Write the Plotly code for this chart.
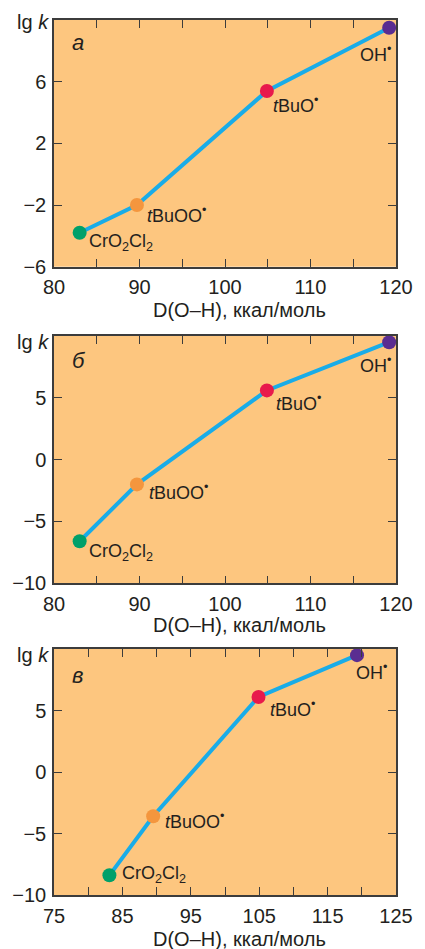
import plotly.graph_objects as go

# ---- data ----
species = ["CrO<sub>2</sub>Cl<sub>2</sub>", "<i>t</i>BuOO<sup>•</sup>", "<i>t</i>BuO<sup>•</sup>", "OH<sup>•</sup>"]
d_oh_a = [83.0, 89.7, 104.9, 119.2]
lgk_a = [-3.8, -2.0, 5.4, 9.5]
d_oh_b = [83.0, 89.7, 104.9, 119.2]
lgk_b = [-6.6, -2.0, 5.6, 9.5]
d_oh_c = [83.1, 89.5, 104.9, 119.3]
lgk_c = [-8.4, -3.6, 6.1, 9.5]
panel_letters = ["а", "б", "в"]
xtick_a = [80, 85, 90, 95, 100, 105, 110, 115, 120]
xlab_a = ["80", "", "90", "", "100", "", "110", "", "120"]
xtick_c = [75, 80, 85, 90, 95, 100, 105, 110, 115, 120, 125]
xlab_c = ["75", "", "85", "", "95", "", "105", "", "115", "", "125"]
ytick_a = [-6, -2, 2, 6, 10]
ylab_a = ["−6", "−2", "2", "6", ""]
ytick_bc = [-10, -5, 0, 5, 10]
ylab_bc = ["−10", "−5", "0", "5", ""]
x_title = "D(O–H), ккал/моль"
y_title = "lg <i>k</i>"

# ---- style ----
W, H = 425, 949
ML, MR, MT, MB = 53, 19, 20, 54
BG = "#FDC67F"
LINE = "#19ACE8"
MCOL = ["#00A06A", "#F4963E", "#E8194C", "#5A2D91"]
TXT = "#231F20"
AX = "#3C3C3C"
FONT = "Liberation Sans, Arial, Helvetica, sans-serif"

# label offsets (px) relative to point: (xshift, yshift, xanchor)
offs = [
    [(7, -10, "left"), (8, -9, "left"), (4, -14, "left"), (4, -26, "right")],
    [(7, -11, "left"), (10, -7, "left"), (7, -12, "left"), (4, -22, "right")],
    [(11, 1, "left"), (10, -4, "left"), (9, -12, "left"), (-3, -16, "left")],
]

ph = H - MT - MB
def dom(top_px, bot_px):
    lo = max(0.0, (H - MB - bot_px) / ph)
    hi = min(1.0, (H - MB - top_px) / ph)
    return [lo, hi]

domains = [dom(20, 266.7), dom(336, 583.3), dom(649, 895)]
panels = [
    (d_oh_a, lgk_a, [80, 120], xtick_a, xlab_a, [-6, 10], ytick_a, ylab_a),
    (d_oh_b, lgk_b, [80, 120], xtick_a, xlab_a, [-10, 10], ytick_bc, ylab_bc),
    (d_oh_c, lgk_c, [75, 125], xtick_c, xlab_c, [-10, 10], ytick_bc, ylab_bc),
]
title_y_px = [310, 625, 939]
lgk_y_px = [22, 342, 655]
letter_y_px = [43, 360, 675]

fig = go.Figure()
annotations = []
layout = {}
for i, (xs, ys, xr, xt, xl, yr, yt, yl) in enumerate(panels):
    n = "" if i == 0 else str(i + 1)
    xa, ya = "x" + n, "y" + n
    fig.add_trace(go.Scatter(
        x=xs, y=ys, mode="lines+markers", xaxis=xa, yaxis=ya,
        line=dict(color=LINE, width=4),
        marker=dict(color=MCOL, size=14, line=dict(width=0)),
        cliponaxis=False, showlegend=False, hoverinfo="skip"))
    layout["xaxis" + n] = dict(
        domain=[0, 1], anchor=ya, range=xr, tickvals=xt, ticktext=xl,
        ticks="inside", ticklen=8, tickwidth=1.3, tickcolor=AX,
        showline=True, linecolor=AX, linewidth=1.5, mirror="ticks",
        showgrid=False, zeroline=False,
        tickfont=dict(family=FONT, size=20, color=TXT), ticklabelstandoff=2)
    layout["yaxis" + n] = dict(
        domain=domains[i], anchor=xa, range=yr, tickvals=yt, ticktext=yl,
        ticks="inside", ticklen=8, tickwidth=1.3, tickcolor=AX,
        showline=True, linecolor=AX, linewidth=1.5, mirror="ticks",
        showgrid=False, zeroline=False,
        tickfont=dict(family=FONT, size=20, color=TXT), ticklabelstandoff=2)
    for j, (lab, x, y) in enumerate(zip(species, xs, ys)):
        dx, dy, anc = offs[i][j]
        annotations.append(dict(
            x=x, y=y, xref=xa, yref=ya, text=lab, showarrow=False,
            xanchor=anc, yanchor="middle", xshift=dx, yshift=dy,
            font=dict(family=FONT, size=18, color=TXT)))
    annotations.append(dict(
        x=(244 - ML) / (W - ML - MR), y=(H - MB - title_y_px[i]) / ph,
        xref="paper", yref="paper", text=x_title, showarrow=False,
        xanchor="center", yanchor="middle",
        font=dict(family=FONT, size=20, color=TXT)))
    annotations.append(dict(
        x=(13 - ML) / (W - ML - MR), y=(H - MB - lgk_y_px[i]) / ph,
        xref="paper", yref="paper", text=y_title, showarrow=False,
        xanchor="left", yanchor="middle",
        font=dict(family=FONT, size=20, color=TXT)))
    annotations.append(dict(
        x=(70 - ML) / (W - ML - MR), y=(H - MB - letter_y_px[i]) / ph,
        xref="paper", yref="paper", text="<i>" + panel_letters[i] + "</i>",
        showarrow=False, xanchor="left", yanchor="middle",
        font=dict(family=FONT, size=22, color=TXT)))

fig.update_layout(
    width=W, height=H, margin=dict(l=ML, r=MR, t=MT, b=MB),
    paper_bgcolor="white", plot_bgcolor=BG,
    annotations=annotations, **layout)

fig.write_html("out.html", config={"displayModeBar": False},
               post_script="document.body.style.margin='0';document.body.style.overflow='hidden';")
